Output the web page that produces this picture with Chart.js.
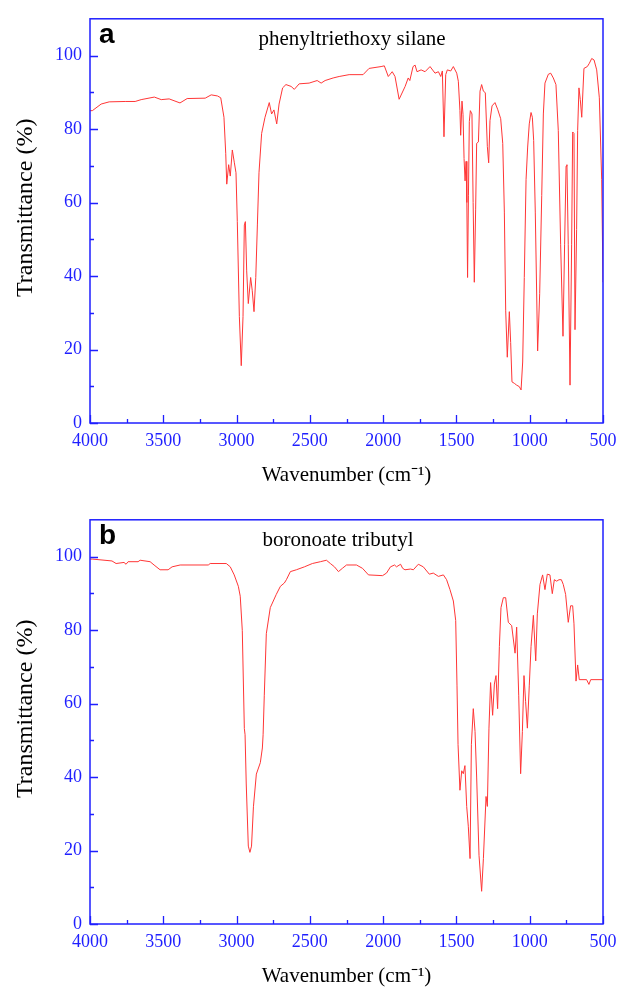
<!DOCTYPE html>
<html>
<head>
<meta charset="utf-8">
<script src="https://cdn.jsdelivr.net/npm/chart.js@4/dist/chart.umd.min.js"></script>
<style>
  html, body { margin: 0; padding: 0; background: #ffffff; }
  #wrap { position: relative; width: 628px; height: 989px; overflow: hidden; }
  .pane { position: absolute; left: 0; width: 628px; height: 488px; }
  #pa { top: 0; }
  #pb { top: 501px; }
</style>
</head>
<body>
<div id="wrap">
  <div class="pane" id="pa"><canvas id="ca" width="628" height="488"></canvas></div>
  <div class="pane" id="pb"><canvas id="cb" width="628" height="488"></canvas></div>
</div>
<script>
// ---------------- data ----------------
const panelLetters = ['a', 'b'];
const panelTitles = ['phenyltriethoxy silane', 'boronoate tributyl'];
const xTickLabels = [4000, 3500, 3000, 2500, 2000, 1500, 1000, 500];
const yTickLabels = [0, 20, 40, 60, 80, 100];
const xTitle = 'Wavenumber (cm\u207B\u00B9)';
const yTitle = 'Transmittance (%)';

// panel a: phenyltriethoxy silane
const wnA = [4000, 3984, 3924, 3869, 3760, 3692, 3651, 3561, 3514, 3460, 3386, 3337, 3214, 3173, 3130, 3108,
  3086, 3074, 3067, 3054, 3043, 3029, 3015, 3004, 2995, 2981, 2968, 2956, 2947, 2940, 2931, 2920, 2904, 2893,
  2881, 2869, 2858, 2847, 2829, 2806, 2777, 2761, 2745, 2726, 2710, 2686, 2663, 2628, 2606, 2573, 2505, 2450,
  2423, 2396, 2341, 2300, 2232, 2137, 2096, 2014, 1992, 1965, 1938, 1919, 1891, 1850, 1829, 1818, 1796, 1782,
  1769, 1741, 1714, 1680, 1646, 1623, 1607, 1596, 1585, 1573, 1562, 1539, 1521, 1498, 1487, 1476, 1471, 1462,
  1455, 1448, 1441, 1434, 1429, 1424, 1418, 1412, 1405, 1394, 1386, 1378, 1369, 1362, 1350, 1339, 1328, 1316,
  1303, 1289, 1280, 1271, 1257, 1237, 1219, 1198, 1184, 1173, 1164, 1153, 1139, 1130, 1121, 1105, 1089, 1071,
  1059, 1048, 1037, 1025, 1014, 1003, 991, 982, 973, 962, 946, 932, 918, 907, 896, 873, 857, 839, 821, 805,
  789, 773, 762, 752, 746, 737, 725, 714, 707, 698, 691, 680, 673, 664, 655, 645, 630, 607, 593, 577, 561, 543,
  525, 509, 500];
const tA = [85.0, 85.0, 86.8, 87.4, 87.5, 87.5, 88.0, 88.7, 88.0, 88.2, 87.1, 88.3, 88.4, 89.3, 89.0, 88.5,
  83.2, 73.4, 65.0, 70.3, 67.2, 74.3, 70.8, 68.1, 54.8, 29.0, 15.6, 29.0, 53.9, 54.8, 41.4, 32.5, 39.6, 36.0,
  30.3, 39.6, 53.9, 68.1, 78.8, 83.2, 87.2, 84.1, 85.2, 81.4, 86.8, 91.2, 92.1, 91.6, 90.8, 92.3, 92.5, 93.2,
  92.5, 93.2, 93.9, 94.3, 94.8, 94.8, 96.5, 97.0, 97.2, 94.3, 95.6, 94.3, 88.1, 91.6, 93.9, 93.2, 97.0, 97.4,
  95.6, 96.1, 95.6, 97.0, 95.2, 95.6, 94.3, 95.8, 77.9, 94.8, 96.1, 95.8, 97.0, 95.2, 93.0, 85.0, 78.3, 87.6,
  84.0, 72.0, 65.9, 71.2, 60.0, 39.6, 62.0, 82.0, 85.0, 84.1, 60.0, 38.3, 58.0, 76.1, 76.5, 90.3, 92.1, 90.3,
  89.9, 75.2, 70.8, 82.3, 86.3, 87.2, 85.4, 82.8, 76.1, 57.4, 30.7, 17.9, 30.3, 21.9, 11.2, 10.8, 10.3, 9.9,
  9.0, 16.6, 39.6, 66.2, 75.1, 81.4, 84.5, 83.2, 76.9, 57.4, 19.6, 35.2, 61.9, 84.1, 92.5, 94.9, 95.2, 93.9,
  92.1, 79.6, 48.5, 23.6, 48.5, 69.9, 70.3, 48.5, 10.3, 48.5, 79.2, 78.8, 25.4, 52.7, 79.6, 91.2, 88.0, 83.2,
  96.5, 97.0, 97.9, 99.2, 98.8, 96.1, 88.5, 66.2, 38.3];

// panel b: boronoate tributyl
const wnB = [4000, 3981, 3850, 3822, 3768, 3754, 3740, 3672, 3658, 3590, 3563, 3522, 3467, 3440, 3385, 3193,
  3180, 3070, 3043, 3016, 2988, 2975, 2961, 2947, 2942, 2934, 2920, 2909, 2898, 2885, 2865, 2838, 2824, 2819,
  2811, 2797, 2770, 2729, 2701, 2674, 2660, 2633, 2592, 2537, 2483, 2428, 2387, 2360, 2332, 2305, 2278, 2250,
  2182, 2141, 2100, 2004, 1977, 1950, 1922, 1909, 1881, 1867, 1851, 1813, 1794, 1760, 1726, 1685, 1658, 1623,
  1589, 1567, 1544, 1521, 1505, 1496, 1489, 1476, 1464, 1453, 1442, 1430, 1419, 1407, 1398, 1385, 1373, 1362,
  1346, 1328, 1316, 1298, 1289, 1278, 1267, 1253, 1241, 1230, 1219, 1207, 1196, 1180, 1164, 1146, 1123, 1100,
  1089, 1075, 1062, 1050, 1039, 1028, 1016, 1003, 991, 975, 959, 948, 930, 912, 896, 880, 862, 846, 832, 816,
  800, 784, 771, 755, 737, 721, 707, 698, 684, 673, 662, 612, 596, 584, 500];
const tB = [99.3, 99.3, 98.8, 98.1, 98.4, 97.9, 98.6, 98.6, 99.0, 98.6, 97.7, 96.4, 96.4, 97.2, 97.7, 97.7,
  98.1, 98.1, 97.2, 95.0, 91.9, 89.2, 79.9, 53.2, 51.5, 38.1, 21.2, 19.5, 21.2, 31.9, 40.8, 43.9, 47.9, 51.5,
  62.1, 79.0, 86.1, 89.7, 91.9, 92.8, 93.7, 95.9, 96.4, 97.2, 98.1, 98.6, 99.0, 98.1, 97.2, 95.9, 96.8, 97.7,
  97.7, 96.8, 95.0, 94.8, 95.5, 97.2, 97.7, 97.2, 97.9, 96.8, 96.4, 96.6, 96.4, 97.9, 97.2, 95.2, 95.5, 94.6,
  95.0, 93.7, 91.0, 87.9, 82.6, 64.8, 48.9, 36.4, 41.7, 40.9, 43.1, 32.0, 26.6, 17.8, 48.9, 58.6, 52.4, 40.0,
  18.7, 8.9, 17.8, 34.7, 32.0, 53.3, 65.7, 56.8, 65.3, 67.6, 58.6, 75.5, 86.1, 88.8, 88.8, 82.1, 81.2, 73.7,
  80.8, 62.1, 40.9, 52.4, 67.6, 60.5, 53.3, 64.8, 75.5, 84.0, 71.6, 84.4, 92.4, 95.0, 91.0, 95.2, 95.0, 89.9,
  93.7, 93.3, 93.7, 93.7, 92.4, 89.7, 82.1, 86.6, 86.6, 81.7, 66.1, 70.5, 66.5, 66.5, 65.2, 66.5, 66.5];

// ---------------- styling ----------------
const BLUE = '#1f1fff';
const RED = '#ff3636';
const SERIF = "'Liberation Serif', 'Times New Roman', serif";
const SANS = "'Liberation Sans', Arial, sans-serif";

const decorPlugin = {
  id: 'decor',
  afterDraw(chart, args, opts) {
    const { ctx, chartArea: a, scales } = chart;
    const x = scales.x, y = scales.y;
    ctx.save();
    // frame
    ctx.strokeStyle = BLUE;
    ctx.lineWidth = 1.5;
    ctx.strokeRect(a.left, a.top, a.right - a.left, a.bottom - a.top);
    // inward ticks (major + minor)
    ctx.lineWidth = 1.3;
    ctx.beginPath();
    for (let i = 0; i < xTickLabels.length; i++) {
      const v = xTickLabels[i];
      const px = Math.round(x.getPixelForValue(v)) + 0.5;
      ctx.moveTo(px, a.bottom); ctx.lineTo(px, a.bottom - 8);
      if (i < xTickLabels.length - 1) {
        const m = (v + xTickLabels[i + 1]) / 2;
        const pm = Math.round(x.getPixelForValue(m)) + 0.5;
        ctx.moveTo(pm, a.bottom); ctx.lineTo(pm, a.bottom - 4);
      }
    }
    for (let i = 0; i < yTickLabels.length; i++) {
      const v = yTickLabels[i];
      const py = Math.round(y.getPixelForValue(v)) + 0.5;
      ctx.moveTo(a.left, py); ctx.lineTo(a.left + 8, py);
      if (i < yTickLabels.length - 1) {
        const m = (v + yTickLabels[i + 1]) / 2;
        const pm = Math.round(y.getPixelForValue(m)) + 0.5;
        ctx.moveTo(a.left, pm); ctx.lineTo(a.left + 4, pm);
      }
    }
    ctx.stroke();
    // panel letter
    ctx.fillStyle = '#000000';
    ctx.textBaseline = 'alphabetic';
    ctx.textAlign = 'left';
    ctx.font = 'bold 28px ' + SANS;
    ctx.fillText(opts.letter, a.left + 9, a.top + 24);
    // title
    ctx.font = '21px ' + SERIF;
    ctx.textAlign = 'center';
    ctx.fillText(opts.title, opts.titleX, a.top + 26);
    // y axis title (rotated)
    ctx.save();
    ctx.translate(26, a.top + 189);
    ctx.rotate(-Math.PI / 2);
    ctx.font = '24px ' + SERIF;
    ctx.textAlign = 'center';
    ctx.textBaseline = 'middle';
    ctx.fillText(yTitle, 0, 0);
    ctx.restore();
    ctx.restore();
  }
};

function makeChart(canvasId, wn, tr, idx, titleX) {
  const pts = wn.map((w, i) => ({ x: w, y: tr[i] }));
  return new Chart(document.getElementById(canvasId), {
    type: 'line',
    data: {
      datasets: [{
        label: panelTitles[idx],
        data: pts,
        borderColor: RED,
        borderWidth: 1,
        pointRadius: 0,
        tension: 0,
        fill: false
      }]
    },
    options: {
      responsive: false,
      animation: false,
      events: [],
      layout: { padding: { left: 0, right: 25, top: 10, bottom: 0 } },
      plugins: {
        legend: { display: false },
        tooltip: { enabled: false },
        decor: { letter: panelLetters[idx], title: panelTitles[idx], titleX: titleX }
      },
      scales: {
        x: {
          type: 'linear',
          min: 500,
          max: 4000,
          reverse: true,
          border: { display: false },
          grid: { display: false, drawTicks: false, tickLength: 0 },
          afterBuildTicks: s => { s.ticks = xTickLabels.map(v => ({ value: v })); },
          afterFit: s => { s.height = 65; },
          ticks: {
            color: BLUE,
            font: { family: SERIF, size: 18 },
            padding: 7,
            maxRotation: 0,
            autoSkip: false,
            callback: v => String(v)
          },
          title: {
            display: true,
            text: xTitle,
            color: '#000000',
            font: { family: SERIF, size: 21 },
            padding: { top: 0, bottom: 0 }
          }
        },
        y: {
          type: 'linear',
          min: 0,
          max: 110,
          border: { display: false },
          grid: { display: false, drawTicks: false, tickLength: 0 },
          afterBuildTicks: s => { s.ticks = yTickLabels.map(v => ({ value: v })); },
          afterFit: s => { s.width = 90; },
          ticks: {
            color: BLUE,
            font: { family: SERIF, size: 18 },
            padding: 8,
            callback: v => String(v)
          },
          title: { display: false }
        }
      }
    },
    plugins: [decorPlugin]
  });
}

makeChart('ca', wnA, tA, 0, 352);
makeChart('cb', wnB, tB, 1, 338);
</script>
</body>
</html>
